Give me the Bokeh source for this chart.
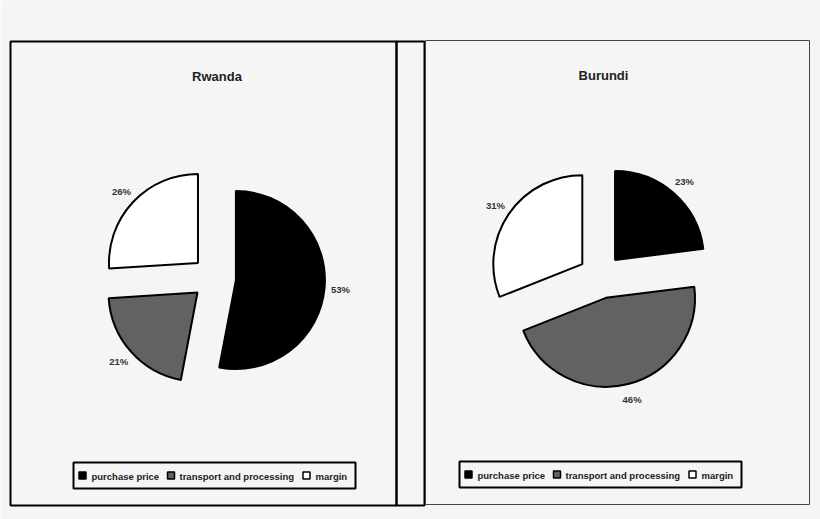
import math
from bokeh.plotting import figure
from bokeh.models import Range1d
from bokeh.core.properties import value
from bokeh.embed import file_html
from bokeh.resources import INLINE

segments = ["purchase price", "transport and processing", "margin"]
rwanda_share = [53, 21, 26]
burundi_share = [23, 46, 31]
colors = ["black", "#626262", "white"]

FONT = value("Liberation Sans")
W, H = 820, 519
R_PIE = 89
EXPLODE = 22
R_LABEL = 127

p = figure(width=W, height=H, x_range=Range1d(0, W), y_range=Range1d(0, H),
           output_backend="svg", toolbar_location=None, min_border=0,
           background_fill_color="#f5f5f5", border_fill_color="#f5f5f5",
           outline_line_color=None)
p.axis.visible = False
p.grid.visible = False

# frames around the panels
p.quad(left=[10, 396], right=[396, 424], bottom=[14, 14], top=[478, 478],
       fill_color=None, line_color="black", line_width=2)
p.quad(left=[425], right=[809], bottom=[15], top=[479],
       fill_color=None, line_color="#444444", line_width=1)


def pie(cx, cy, shares, title, tx, ty, lx, ly):
    total = float(sum(shares))
    start = 0.0
    xs, ys, a0, a1, lab_x, lab_y, labs = [], [], [], [], [], [], []
    for s in shares:
        end = start + 2 * math.pi * s / total
        mid = (start + end) / 2
        xs.append(cx + EXPLODE * math.sin(mid))
        ys.append(cy + EXPLODE * math.cos(mid))
        # excel style: clockwise from 12 o'clock
        a0.append(math.pi / 2 - start)
        a1.append(math.pi / 2 - end)
        lab_x.append(cx + R_LABEL * math.sin(mid))
        lab_y.append(cy + R_LABEL * math.cos(mid))
        labs.append(f"{s}%")
        start = end
    p.wedge(x=xs, y=ys, radius=R_PIE, start_angle=a0, end_angle=a1,
            direction="clock", fill_color=colors, line_color="black",
            line_width=2)
    p.text(x=lab_x, y=lab_y, text=labs, text_font=FONT, text_font_size="9.5px",
           text_font_style="bold", text_color="#333333",
           text_align="center", text_baseline="middle")
    p.text(x=[tx], y=[ty], text=[title], text_font=FONT, text_font_size="13px",
           text_font_style="bold", text_color="#222222",
           text_align="center", text_baseline="middle")

    # legend
    p.quad(left=[lx], right=[lx + 282], bottom=[ly], top=[ly + 26],
           fill_color=None, line_color="black", line_width=2)
    sq_off = [9, 97.5, 233]
    tx_off = [18, 106, 242]
    p.rect(x=[lx + o for o in sq_off], y=[ly + 13] * 3, width=7, height=7,
           fill_color=colors, line_color="black", line_width=1.5)
    p.text(x=[lx + o for o in tx_off], y=[ly + 12.5] * 3, text=segments,
           text_font=FONT, text_font_size="9.5px", text_font_style="bold",
           text_color="#222222", text_align="left", text_baseline="middle")


pie(213.5, 241.5, rwanda_share, "Rwanda", 216.5, 443, 73, 31)
pie(600, 243, burundi_share, "Burundi", 603, 444, 459, 32)

open("out.html", "w").write(file_html(p, INLINE))
